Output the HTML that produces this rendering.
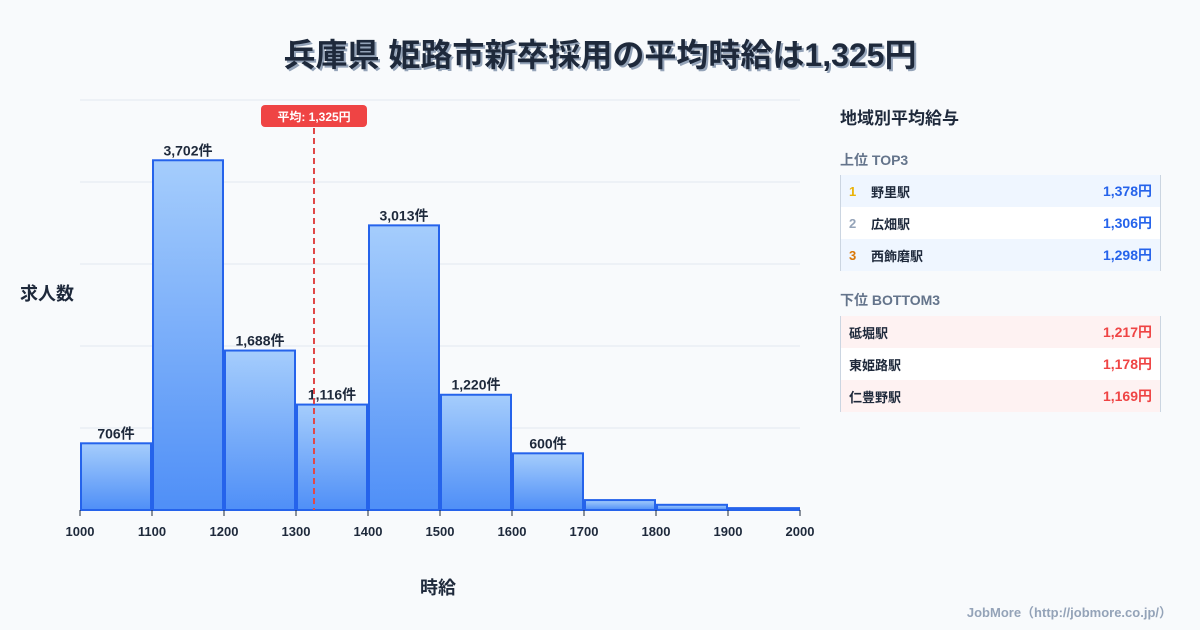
<!DOCTYPE html>
<html><head><meta charset="utf-8"><style>
body{margin:0;width:1200px;height:630px;background:#f8fafc;font-family:"Liberation Sans","Noto Sans CJK JP",sans-serif;position:relative;overflow:hidden;color:#1e293b}
.title{position:absolute;top:30px;left:0;width:1200px;text-align:center;font-size:32px;font-weight:bold;color:#1e293b;text-shadow:2px 2px 0 #94a3b8}
.panel{position:absolute;left:840px;width:320px}
.row{display:flex;height:32px;align-items:center;font-size:13px;padding:0 8px;border-right:1px solid #cbd5e1;box-sizing:border-box}
.row .n{width:22px;font-weight:bold}
.row .s{flex:1;font-weight:bold}
.row .v{font-weight:bold;font-size:14px}
.h{font-size:14px;font-weight:bold;color:#64748b}
</style></head><body>
<div class="title">兵庫県 姫路市新卒採用の平均時給は1,325円</div>
<svg id="chart" width="820" height="630" style="position:absolute;left:0;top:0"></svg>
<div style="position:absolute;left:20px;top:280px;font-size:18px;font-weight:bold">求人数</div>
<div style="position:absolute;left:420px;top:574px;font-size:18px;font-weight:bold">時給</div>
<div class="panel" style="top:104px;font-size:17px;font-weight:bold">地域別平均給与</div>
<div class="panel h" style="top:150px">上位 TOP3</div>
<div class="panel" style="top:175px;border-left:1px solid #cbd5e1">
<div class="row" style="background:#eff6ff"><span class="n" style="color:#eab308">1</span><span class="s">野里駅</span><span class="v" style="color:#2563eb">1,378円</span></div>
<div class="row" style="background:#fff"><span class="n" style="color:#94a3b8">2</span><span class="s">広畑駅</span><span class="v" style="color:#2563eb">1,306円</span></div>
<div class="row" style="background:#eff6ff"><span class="n" style="color:#d97706">3</span><span class="s">西飾磨駅</span><span class="v" style="color:#2563eb">1,298円</span></div>
</div>
<div class="panel h" style="top:290px">下位 BOTTOM3</div>
<div class="panel" style="top:316px;border-left:1px solid #cbd5e1">
<div class="row" style="background:#fef2f2"><span class="s">砥堀駅</span><span class="v" style="color:#ef4444">1,217円</span></div>
<div class="row" style="background:#fff"><span class="s">東姫路駅</span><span class="v" style="color:#ef4444">1,178円</span></div>
<div class="row" style="background:#fef2f2"><span class="s">仁豊野駅</span><span class="v" style="color:#ef4444">1,169円</span></div>
</div>
<div style="position:absolute;right:28px;top:602px;font-size:13px;color:#94a3b8;font-weight:bold">JobMore（http://jobmore.co.jp/）</div>
<script>
const binStarts=[1000,1100,1200,1300,1400,1500,1600,1700,1800,1900];
const counts=[706,3702,1688,1116,3013,1220,600,105,55,20];
const showLabel=[true,true,true,true,true,true,true,false,false,false];
const xTicks=[1000,1100,1200,1300,1400,1500,1600,1700,1800,1900,2000];
const meanValue=1325;
const meanLabel="平均: 1,325円";
const NS="http://www.w3.org/2000/svg";
const svg=document.getElementById('chart');
const x0=80,x1=800,yB=510,yT=100,yMax=4340;
const xs=v=>x0+(v-1000)/1000*(x1-x0);
const ys=v=>yB-v/yMax*(yB-yT);
function mk(t,a,p){const e=document.createElementNS(NS,t);for(const k in a)e.setAttribute(k,a[k]);(p||svg).appendChild(e);return e;}
const defs=mk('defs',{});
const g=mk('linearGradient',{id:'bg',x1:0,y1:0,x2:0,y2:1},defs);
mk('stop',{offset:0,'stop-color':'#a5cdfc'},g);mk('stop',{offset:1,'stop-color':'#4f8ff7'},g);
for(let i=0;i<=5;i++){const y=yB-i*(yB-yT)/5;
const l=mk('line',{x1:x0,x2:x1,y1:y,y2:y,stroke:'#e2e8f0'});

}
binStarts.forEach((b,i)=>{
const xa=xs(b)+1,xb=xs(b+100)-1,y=ys(counts[i]);
const r=mk('rect',{x:xa,y:y,width:xb-xa,height:yB-y,fill:'url(#bg)',stroke:'#2563eb','stroke-width':2});


if(showLabel[i]){const t=mk('text',{x:(xa+xb)/2,y:y-5,'text-anchor':'middle','font-size':14,'font-weight':'bold',fill:'#1e293b'});
t.textContent=counts[i].toLocaleString('en-US')+'件';

}
});
xTicks.forEach(v=>{
mk('line',{x1:xs(v),x2:xs(v),y1:yB,y2:yB+6,stroke:'#1e293b'});
const t=mk('text',{x:xs(v),y:536,'text-anchor':'middle','font-size':13,'font-weight':'bold',fill:'#1e293b'});
t.textContent=v;


});
const mx=xs(meanValue);
const ml=mk('line',{x1:mx,x2:mx,y1:128,y2:yB,stroke:'#e04848','stroke-width':2,'stroke-dasharray':'6,4'});


const mr=mk('rect',{x:mx-53,y:105,width:106,height:22,rx:4,fill:'#ef4444'});


const mt=mk('text',{x:mx,y:121,'text-anchor':'middle','font-size':12,'font-weight':'bold',fill:'#fff'});
mt.textContent=meanLabel;


</script>
</body></html>
